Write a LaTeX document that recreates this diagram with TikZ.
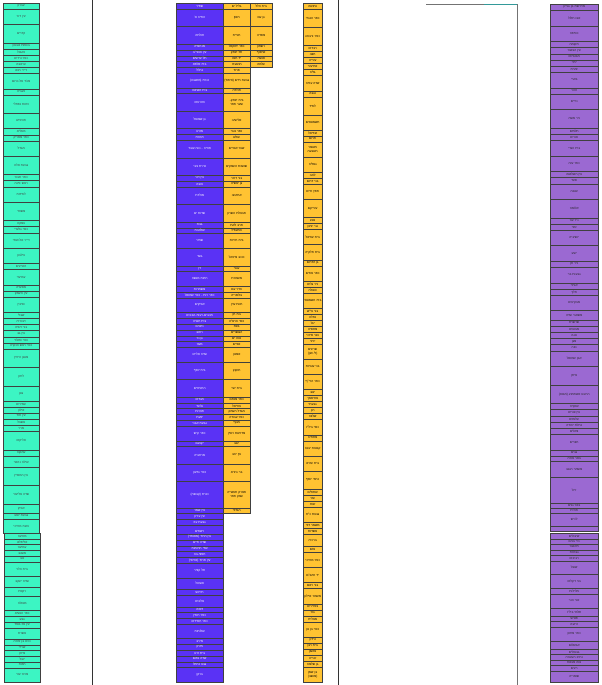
\documentclass[tikz,border=0pt]{standalone}
\usepackage{fontspec}
\newfontfamily\hebfont[Script=Hebrew]{Liberation Sans}
\TeXXeTstate=1
\definecolor{cgreen}{RGB}{60,245,195}
\definecolor{cblue}{RGB}{90,50,245}
\definecolor{cyellow}{RGB}{255,195,50}
\definecolor{cpurple}{RGB}{155,105,210}
\newcounter{nbx}
% column settings: style, x-left, width, y-top, unit height
\newcommand\startcol[5]{%
  \xdef\colsty{#1}\xdef\colx{#2}\xdef\colw{#3}\xdef\cury{#4}\xdef\colu{#5}%
  \pgfmathsetmacro\tw{#3-1.5}\xdef\coltw{\tw}}
\newcommand\bx[2]{%
  \stepcounter{nbx}%
  \pgfmathsetmacro\hh{#1*\colu}%
  \node[\colsty, minimum width=\colw pt, minimum height=\hh pt, text width=\coltw pt, anchor=north west] (n\arabic{nbx}) at (\colx pt,-\cury pt) {#2};%
  \pgfmathsetmacro\ny{\cury+\hh}%
  \xdef\cury{\ny}}
\tikzset{
  cell/.style={draw=black!75, line width=0.4pt, inner sep=0pt, align=center,
    font=\hebfont\fontsize{3.2}{3.7}\selectfont},
  gbox/.style={cell, fill=cgreen, text=black!75},
  bbox/.style={cell, fill=cblue, text=white},
  ybox/.style={cell, fill=cyellow, text=black},
  pbox/.style={cell, fill=cpurple, text=black!85},
  rule/.style={line width=0.8pt, black!80},
}
\begin{document}
\begin{tikzpicture}[x=1pt,y=1pt]
\fill[white] (0,0) rectangle (602,-685);
\useasboundingbox (0,0) rectangle (602,-685);
% ---------------- green column ----------------
\startcol{gbox}{3}{36}{3}{6.12}
\bx{1}{\beginR עברון\endR}
\bx{2.5}{\beginR עין דור\endR}
\bx{3}{\beginR קדרים\endR}
\bx{1}{\beginR בסמת טבעון\endR}
\bx{1}{\beginR כאבול\endR}
\bx{1}{\beginR כפר ורדים\endR}
\bx{1}{\beginR עראבה\endR}
\bx{1}{\beginR דייר חנא\endR}
\bx{2.5}{\beginR מג'ד אל-כרום\endR}
\bx{1}{\beginR כעביה\endR}
\bx{3}{\beginR רמות נפתלי\endR}
\bx{2.5}{\beginR חורפיש\endR}
\bx{1}{\beginR מעליא\endR}
\bx{1}{\beginR כפר מסריק\endR}
\bx{2.5}{\beginR מגדל\endR}
\bx{3}{\beginR גבעת אלה\endR}
\bx{1}{\beginR כפר תבור\endR}
\bx{1}{\beginR ראש פינה\endR}
\bx{2.5}{\beginR לפידות\endR}
\bx{3}{\beginR משהד\endR}
\bx{1}{\beginR עמקה\endR}
\bx{1}{\beginR כפר גלעדי\endR}
\bx{2.5}{\beginR דייר אל-אסד\endR}
\bx{2.5}{\beginR עילבון\endR}
\bx{1}{\beginR הזורעים\endR}
\bx{2.5}{\beginR עמיעד\endR}
\bx{1}{\beginR מסעדה\endR}
\bx{1}{\beginR עין העמק\endR}
\bx{2.5}{\beginR סחנין\endR}
\bx{1}{\beginR שבלי\endR}
\bx{1}{\beginR דבוריה\endR}
\bx{1}{\beginR בני יהודה\endR}
\bx{1}{\beginR עין גב\endR}
\bx{1}{\beginR כפר סאלד\endR}
\bx{1}{\beginR כפר ראש הנקרה\endR}
\bx{3}{\beginR מעגן הירדן\endR}
\bx{3}{\beginR לימן\endR}
\bx{2.5}{\beginR גונן\endR}
\bx{1}{\beginR עמירים\endR}
\bx{1}{\beginR אילון\endR}
\bx{1}{\beginR עין חוד\endR}
\bx{1}{\beginR אשבל\endR}
\bx{1}{\beginR מרר\endR}
\bx{3}{\beginR אליקים\endR}
\bx{1}{\beginR עמוקה\endR}
\startcol{gbox}{3}{36}{456}{5.7}
\bx{2}{\beginR שילה נהאר\endR}
\bx{3}{\beginR עין המפרץ\endR}
\bx{3.5}{\beginR שדה אליעזר\endR}
\bx{1.5}{\beginR אפיק\endR}
\bx{1}{\beginR גבעת יואב\endR}
\bx{2.5}{\beginR נאות מרדכי\endR}
\startcol{gbox}{4}{36}{533}{5.73}
\bx{1}{\beginR מזרעה\endR}
\bx{1}{\beginR אליפלט\endR}
\bx{1}{\beginR עמיעוז\endR}
\bx{1}{\beginR משגב\endR}
\bx{1}{\beginR נוב\endR}
\bx{2.5}{\beginR בית הלוי\endR}
\bx{2}{\beginR שדה יעקב\endR}
\bx{1.5}{\beginR רקפת\endR}
\bx{2.5}{\beginR מטולה\endR}
\bx{1}{\beginR כפר הנשיא\endR}
\bx{1}{\beginR גבע\endR}
\bx{1}{\beginR עין אל-אסד\endR}
\bx{2}{\beginR אשרת\endR}
\bx{1}{\beginR כרם בן זמרה\endR}
\bx{1}{\beginR שריד\endR}
\bx{1}{\beginR מירון\endR}
\bx{1}{\beginR יובל\endR}
\bx{1}{\beginR רמות\endR}
\bx{2.5}{\beginR מרכז עזר\endR}
% ---------------- blue column ----------------
\startcol{bbox}{176}{47}{3}{5.834}
\bx{1}{\beginR שפיר\endR}
\bx{3}{\beginR הודיה א'\endR}
\bx{3}{\beginR חולתה\endR}
\bx{1}{\beginR מנחמיה\endR}
\bx{1}{\beginR עין הנצי"ב\endR}
\bx{1}{\beginR תל עדשים\endR}
\bx{1}{\beginR בית אלפא\endR}
\bx{1}{\beginR נהלל\endR}
\bx{2.5}{\beginR כנרת (מושבה)\endR}
\bx{1}{\beginR בית השיטה\endR}
\bx{3}{\beginR הזורעים\endR}
\bx{3}{\beginR גן שמואל\endR}
\bx{1}{\beginR מזרע\endR}
\bx{1}{\beginR תמרת\endR}
\bx{3}{\beginR פוריה - נווה עובד\endR}
\bx{3}{\beginR טירת צבי\endR}
\bx{1}{\beginR עין דור\endR}
\bx{1}{\beginR צובה\endR}
\bx{3}{\beginR מולדת\endR}
\bx{3}{\beginR שדות ים\endR}
\bx{1}{\beginR גבת\endR}
\bx{1}{\beginR שלהבת\endR}
\bx{2.5}{\beginR שמיר\endR}
\bx{3}{\beginR גשר\endR}
\bx{1}{\beginR דן\endR}
\bx{2.5}{\beginR רמות מנשה\endR}
\bx{1}{\beginR משמרות\endR}
\bx{1}{\beginR כפר רות - כפר שמואל\endR}
\bx{2.5}{\beginR אפיקים\endR}
\bx{1}{\beginR מכבים-רעות-הבונים\endR}
\bx{1}{\beginR בית חנניה\endR}
\bx{1}{\beginR ניצנים\endR}
\bx{1}{\beginR רחוב\endR}
\bx{1}{\beginR גן נר\endR}
\bx{1}{\beginR מעוז\endR}
\bx{2.5}{\beginR שדה אליהו\endR}
\bx{3}{\beginR בית יוסף\endR}
\bx{3}{\beginR החותרים\endR}
\bx{1}{\beginR מגדים\endR}
\bx{1}{\beginR גלעד\endR}
\bx{1}{\beginR חצרות\endR}
\bx{1}{\beginR יפעת\endR}
\bx{1}{\beginR גבעת אבני\endR}
\bx{2.5}{\beginR כפר קיש\endR}
\bx{1}{\beginR יקנעם\endR}
\bx{3}{\beginR מרחביה\endR}
\bx{3}{\beginR כפר גדעון\endR}
\bx{4.5}{\beginR כנרת (קבוצה)\endR}
\bx{1}{\beginR עין שמר\endR}
\bx{1}{\beginR עין עירון\endR}
\bx{1}{\beginR גבעת עוז\endR}
\bx{2}{\beginR רשפים\endR}
\startcol{bbox}{176}{47}{534}{5.80}
\bx{1}{\beginR עין חרוד (מאוחד)\endR}
\bx{1}{\beginR שדה חיים\endR}
\bx{1}{\beginR שדי תרומות\endR}
\bx{1}{\beginR חפצי-בה\endR}
\bx{1}{\beginR עין חרוד (איחוד)\endR}
\bx{2.5}{\beginR תל קציר\endR}
\bx{2}{\beginR אשכול\endR}
\bx{1}{\beginR תירוש\endR}
\bx{2}{\beginR אלונים\endR}
\bx{1}{\beginR דפנה\endR}
\bx{1}{\beginR כפר רופין\endR}
\bx{1}{\beginR כפר חסידים\endR}
\bx{2.5}{\beginR שלוחות\endR}
\bx{1}{\beginR מירב\endR}
\bx{1}{\beginR מירון\endR}
\bx{1}{\beginR בית זרע\endR}
\bx{1}{\beginR שדה נחום\endR}
\bx{1}{\beginR גבע כרמל\endR}
\bx{2.5}{\beginR ברקן\endR}
% ---------------- yellow columns ----------------
\startcol{ybox}{223}{27}{3}{5.834}
\bx{1}{\beginR גליל ים\endR}
\bx{3}{\beginR חוסן\endR}
\bx{3}{\beginR חורית\endR}
\bx{1}{\beginR כפר יחזקאל\endR}
\bx{1}{\beginR תל יצחק\endR}
\bx{1}{\beginR יד חנה\endR}
\bx{1}{\beginR הושעיה\endR}
\bx{1}{\beginR פרוד\endR}
\bx{2.5}{\beginR גבעת חיים (איחוד)\endR}
\bx{1}{\beginR חולדה\endR}
\bx{3}{\beginR בית יצחק-שער חפר\endR}
\bx{3}{\beginR אלישיב\endR}
\bx{1}{\beginR כפר נטר\endR}
\bx{1}{\beginR עולש\endR}
\bx{3}{\beginR שער אפרים\endR}
\bx{3}{\beginR שושנת העמקים\endR}
\bx{1}{\beginR בני דרור\endR}
\bx{1}{\beginR גן יאשיה\endR}
\bx{3}{\beginR אחיטוב\endR}
\bx{3}{\beginR חבצלת השרון\endR}
\bx{1}{\beginR חרב לאת\endR}
\bx{1}{\beginR המעפיל\endR}
\bx{2.5}{\beginR בית חירות\endR}
\bx{3}{\beginR כוכב מיכאל\endR}
\bx{1}{\beginR עגור\endR}
\bx{2.5}{\beginR משמרת\endR}
\bx{1}{\beginR הדר עם\endR}
\bx{1}{\beginR בלפוריה\endR}
\bx{2.5}{\beginR חוות עדן\endR}
\bx{1}{\beginR בת חן\endR}
\bx{1}{\beginR כפר הרא"ה\endR}
\bx{1}{\beginR בצת\endR}
\bx{1}{\beginR הגושרים\endR}
\bx{1}{\beginR נווה ים\endR}
\bx{1}{\beginR אודים\endR}
\bx{2.5}{\beginR אמנון\endR}
\bx{3}{\beginR חוקוק\endR}
\bx{3}{\beginR בית ישי\endR}
\bx{1}{\beginR כפר מנחם\endR}
\bx{1}{\beginR עזריאל\endR}
\bx{1}{\beginR מגדל העמק\endR}
\bx{1}{\beginR כפר עבודה\endR}
\bx{1}{\beginR מנוף\endR}
\bx{2.5}{\beginR מדרשת רופין\endR}
\bx{1}{\beginR יוגב\endR}
\bx{3}{\beginR עין יהב\endR}
\bx{3}{\beginR בר גיורא\endR}
\bx{4.5}{\beginR פארק תעשייה עמק חפר\endR}
\bx{1}{\beginR הגדוד\endR}
\startcol{ybox}{250}{22}{3}{5.834}
\bx{1}{\beginR בית הלל\endR}
\bx{3}{\beginR גן עם\endR}
\bx{3}{\beginR מסדה\endR}
\bx{1}{\beginR רשפון\endR}
\bx{1}{\beginR ארסוף\endR}
\bx{1}{\beginR אושה\endR}
\bx{1}{\beginR עלמה\endR}
\startcol{ybox}{303}{19}{3}{6.036}
\bx{1}{\beginR נחושה\endR}
\bx{3}{\beginR כפר הנגיד\endR}
\bx{3}{\beginR כפר ורבורג\endR}
\bx{1}{\beginR רבדים\endR}
\bx{1}{\beginR חצב\endR}
\bx{1}{\beginR עזריה\endR}
\bx{1}{\beginR אחיעזר\endR}
\bx{1}{\beginR גליה\endR}
\bx{2.5}{\beginR שדה עוזיה\endR}
\bx{1}{\beginR נגבה\endR}
\bx{3}{\beginR לפיד\endR}
\bx{2.5}{\beginR חשמונאים\endR}
\bx{1}{\beginR זבדיאל\endR}
\bx{1}{\beginR תרום\endR}
\bx{2.5}{\beginR משמר השבעה\endR}
\bx{2.5}{\beginR גאליה\endR}
\bx{1}{\beginR להב\endR}
\bx{1}{\beginR בני דרום\endR}
\bx{2.5}{\beginR חפץ חיים\endR}
\bx{3}{\beginR עזריקם\endR}
\bx{1}{\beginR נטע\endR}
\bx{1}{\beginR גני יוחנן\endR}
\bx{2.5}{\beginR בית עוזיאל\endR}
\bx{2.5}{\beginR בית חלקיה\endR}
\bx{1}{\beginR גן הדרום\endR}
\bx{2.5}{\beginR כפר אחים\endR}
\bx{1}{\beginR ניר גלים\endR}
\bx{1}{\beginR סגולה\endR}
\bx{2.5}{\beginR בית השמונאי\endR}
\bx{1}{\beginR בני עי"ש\endR}
\bx{1}{\beginR נחלה\endR}
\bx{1}{\beginR יגל\endR}
\bx{1}{\beginR מחסיה\endR}
\bx{1}{\beginR נצר סירני\endR}
\bx{1}{\beginR יכיני\endR}
\bx{2.5}{\beginR שריגים (לי-און)\endR}
\bx{2.5}{\beginR בני עטרות\endR}
\bx{2.5}{\beginR כפר הרי"ף\endR}
\bx{1}{\beginR ינוב\endR}
\bx{1}{\beginR אחיסמך\endR}
\bx{1}{\beginR גבעתי\endR}
\bx{1}{\beginR רנן\endR}
\bx{1}{\beginR שלווה\endR}
\bx{2.5}{\beginR כפר ביל"ו\endR}
\bx{1}{\beginR מתתיה\endR}
\bx{2.5}{\beginR קבוצת יבנה\endR}
\bx{2.5}{\beginR בית עזרא\endR}
\bx{3}{\beginR כרמי יוסף\endR}
\bx{1}{\beginR שתולים\endR}
\bx{1}{\beginR עזר\endR}
\bx{1}{\beginR זנוח\endR}
\bx{2.5}{\beginR גבעת כ"ח\endR}
\bx{1}{\beginR משמר דוד\endR}
\bx{1}{\beginR אשדות\endR}
\bx{2}{\beginR ברכיה\endR}
\bx{1}{\beginR נחם\endR}
\bx{2.5}{\beginR כפר מרדכי\endR}
\bx{2.5}{\beginR יד רמב"ם\endR}
\bx{1}{\beginR בני ראם\endR}
\bx{2.5}{\beginR משמר איילון\endR}
\bx{1}{\beginR צפרירים\endR}
\bx{1}{\beginR גזר\endR}
\bx{1}{\beginR מצליח\endR}
\bx{2.5}{\beginR כפר בן נון\endR}
\bx{1}{\beginR ורדון\endR}
\bx{1}{\beginR בית רבן\endR}
\bx{1}{\beginR נחשון\endR}
\bx{1}{\beginR זכריה\endR}
\bx{1}{\beginR גן שלמה\endR}
\bx{2.5}{\beginR בן שמן (מושב)\endR}
% ---------------- purple column ----------------
\startcol{pbox}{550}{48}{4}{6.19}
\bx{1}{\beginR מדרשת בן גוריון\endR}
\bx{2.5}{\beginR אבו תלול\endR}
\bx{2.5}{\beginR כסיפה\endR}
\bx{1}{\beginR תקומה\endR}
\bx{1}{\beginR עין הבשור\endR}
\bx{1}{\beginR מבטחים\endR}
\bx{1}{\beginR יתד\endR}
\bx{1}{\beginR זמרת\endR}
\bx{2.5}{\beginR בארי\endR}
\bx{1}{\beginR זוהר\endR}
\bx{2.5}{\beginR נירים\endR}
\bx{3}{\beginR ניר משה\endR}
\bx{1}{\beginR תלמים\endR}
\bx{1}{\beginR אורים\endR}
\bx{2.5}{\beginR בית הגדי\endR}
\bx{2.5}{\beginR כפר עזה\endR}
\bx{1}{\beginR עין השלושה\endR}
\bx{1}{\beginR סעד\endR}
\bx{2.5}{\beginR שובה\endR}
\bx{3}{\beginR אלומה\endR}
\bx{1}{\beginR ניר עוז\endR}
\bx{1}{\beginR זמר\endR}
\bx{2.5}{\beginR יושיביה\endR}
\bx{2.5}{\beginR ישע\endR}
\bx{1}{\beginR ניר חן\endR}
\bx{2.5}{\beginR גבעות בר\endR}
\bx{1}{\beginR אוהד\endR}
\bx{1}{\beginR חלץ\endR}
\bx{2.5}{\beginR מבקיעים\endR}
\bx{1.5}{\beginR משאבי שדה\endR}
\bx{1}{\beginR שרשרת\endR}
\bx{1}{\beginR מבועים\endR}
\bx{1}{\beginR נוגה\endR}
\bx{1}{\beginR מגן\endR}
\bx{1}{\beginR נווה\endR}
\bx{2.5}{\beginR אבן שמואל\endR}
\bx{3}{\beginR איתן\endR}
\bx{3}{\beginR הרובע אשתמוע (מבוא)\endR}
\bx{1}{\beginR שוקדה\endR}
\bx{1}{\beginR עין צורים\endR}
\bx{1}{\beginR עלומים\endR}
\bx{1}{\beginR נחלת יהודה\endR}
\bx{1}{\beginR צאלים\endR}
\bx{2.5}{\beginR חצרים\endR}
\bx{1}{\beginR גבים\endR}
\startcol{pbox}{550}{48}{456}{5.17}
\bx{1}{\beginR באר אורה\endR}
\bx{3}{\beginR משמר הנגב\endR}
\bx{5}{\beginR יהל\endR}
\bx{1}{\beginR באר גנים\endR}
\bx{1}{\beginR חולית\endR}
\bx{2.5}{\beginR לכיש\endR}
\bx{1}{}
\startcol{pbox}{550}{48}{533}{5.52}
\bx{1}{\beginR שיבולים\endR}
\bx{1}{\beginR ניר בנים\endR}
\bx{1}{\beginR תאשור\endR}
\bx{1}{\beginR גבולות\endR}
\bx{1}{\beginR רביבים\endR}
\bx{2.5}{\beginR שובל\endR}
\bx{2.5}{\beginR בני דקלים\endR}
\bx{1}{\beginR מלילות\endR}
\bx{2.5}{\beginR אור הנר\endR}
\bx{1.5}{\beginR תלמי ביל"ו\endR}
\bx{1}{\beginR פטיש\endR}
\bx{1}{\beginR זרועה\endR}
\bx{2.5}{\beginR כפר מימון\endR}
\bx{1.5}{\beginR אבשלום\endR}
\bx{1}{\beginR גבעולים\endR}
\bx{1}{\beginR נתיב העשרה\endR}
\bx{1}{\beginR נווה מבטח\endR}
\bx{1}{\beginR רעים\endR}
\bx{2}{\beginR שומריה\endR}
% ---------------- rules ----------------
\coordinate (r1a) at (92.5,0);  \coordinate (r1b) at (92.5,-685);
\coordinate (r2a) at (338,0);   \coordinate (r2b) at (338,-685);
\coordinate (r3a) at (517,-4.5); \coordinate (r3b) at (517,-685);
\coordinate (t1) at (426,-4.5); \coordinate (t2) at (484,-4.5);
\draw[rule] (r1a) -- (r1b);
\draw[rule] (r2a) -- (r2b);
\draw[rule, black!55] (t1) -- (r3a) -- (r3b);
\draw[line width=1.2pt, teal!80] (t2) -- (r3a);
\end{tikzpicture}
\end{document}
